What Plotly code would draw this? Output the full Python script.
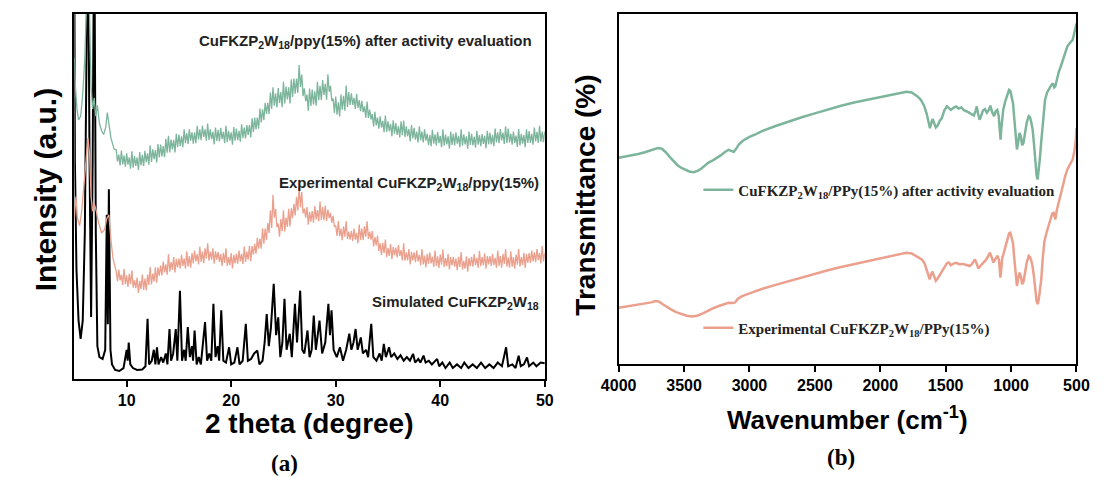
import plotly.graph_objects as go

# ---------------- Panel (a): XRD ----------------
sim_x = [5.0, 5.05, 5.2, 5.4, 5.6, 5.8, 6.0, 6.15, 6.3, 6.45, 6.6, 6.75, 6.9, 7.05, 7.2, 7.4, 7.7, 7.95,
         8.1, 8.2, 8.3, 8.45, 8.6, 8.9, 9.3, 9.7, 9.9, 10.0, 10.1, 10.2, 10.35, 10.6, 11.0, 11.5, 11.8,
         12.0, 12.15, 12.4, 12.6, 12.75, 12.9, 13.05, 13.3, 13.5, 13.75, 13.9, 14.1, 14.25, 14.45, 14.7,
         14.85, 15.1, 15.3, 15.5, 15.65, 15.85, 16.05, 16.25, 16.35, 16.5, 16.7, 16.9, 17.1, 17.3, 17.5,
         17.7, 17.9, 18.1, 18.3, 18.5, 18.7, 18.85, 19.05, 19.25, 19.5, 19.8, 20.0, 20.3, 20.6, 20.8,
         21.1, 21.4, 21.6, 21.9, 22.2, 22.5, 22.7, 23.0, 23.2, 23.4, 23.6, 23.8, 24.07, 24.3, 24.5, 24.7,
         24.9, 25.1, 25.3, 25.6, 25.8, 26.1, 26.3, 26.6, 26.8, 27.0, 27.3, 27.5, 27.7, 27.9, 28.1, 28.45,
         28.7, 29.0, 29.3, 29.45, 29.6, 29.8, 30.1, 30.4, 30.7, 31.0, 31.3, 31.5, 31.7, 31.9, 32.1, 32.4,
         32.6, 32.9, 33.1, 33.4, 33.6, 33.9, 34.2, 34.4, 34.6, 34.8, 35.1, 35.3, 35.6, 35.9, 36.2, 36.5,
         36.8, 37.1, 37.4, 37.6, 37.9, 38.1, 38.4, 38.6, 38.9, 39.2, 39.7, 39.9, 40.2, 40.5, 40.9, 41.2,
         41.6, 42.0, 42.3, 42.7, 43.1, 43.5, 43.9, 44.3, 44.7, 45.1, 45.5, 45.9, 46.3, 46.5, 46.9, 47.2,
         47.5, 47.7, 48.0, 48.3, 48.5, 48.9, 49.2, 49.6, 50.0]
sim_y = [110, 60, 30, 16, 11, 16, 40, 90, 130, 60, 17, 60, 130, 40, 9, 6, 5.5, 8,
         45, 15, 52, 8, 4, 2.5, 2.2, 3, 6, 8, 5, 10, 4, 3, 2.5, 2.6, 3.5,
         16.5, 4, 5, 8, 4, 8.7, 4, 6, 4.5, 7, 4, 13.7, 5, 7, 13.7,
         5, 24.2, 5, 8, 5, 14.2, 6, 9, 5, 13.3, 4, 6, 4, 9, 15.6,
         5, 7, 5, 20.6, 6, 9, 5, 18.8, 5, 4.5, 8.7, 4, 4.5, 8.7, 4,
         5, 15.1, 5, 5.5, 7, 7.8, 4, 5, 10, 17.8, 9, 14, 26.1, 12, 16.9, 6,
         10, 22, 8, 12.4, 6, 20.6, 10, 24.2, 8, 7, 13.3, 6, 8, 17.4, 8, 16,
         7, 10, 20.6, 12, 18.8, 8, 6, 8.7, 5, 8, 12.4, 8, 10, 13.7, 8, 11.4,
         7, 8, 6, 15.1, 6, 5, 7, 5, 9.6, 6, 8.7, 6, 7, 5.5, 6.5, 5,
         6, 5, 6.9, 4.5, 5.5, 4.5, 6.4, 4.5, 5, 4, 5.5, 3.5, 4.5, 3, 4.5, 3,
         4, 3, 4.5, 3, 4, 3, 4.5, 3, 4, 3, 4.5, 3.5, 8.7, 3.5, 4, 3,
         6.4, 3.5, 4, 5.9, 3.5, 4.5, 3.5, 4.5, 4.3]

# shared 2-theta sampling of the two noisy measured patterns (9-50 deg)
xrd_grid = [
    9.0, 9.125, 9.25, 9.375, 9.5, 9.625, 9.75, 9.875, 10.0, 10.125, 10.25, 10.375, 10.5, 10.625, 10.75, 10.875, 11.0, 11.125, 11.25, 11.375,
    11.5, 11.625, 11.75, 11.875, 12.0, 12.125, 12.25, 12.375, 12.5, 12.625, 12.75, 12.875, 13.0, 13.125, 13.25, 13.375, 13.5, 13.625, 13.75, 13.875,
    14.0, 14.125, 14.25, 14.375, 14.5, 14.625, 14.75, 14.875, 15.0, 15.125, 15.25, 15.375, 15.5, 15.625, 15.75, 15.875, 16.0, 16.125, 16.25, 16.375,
    16.5, 16.625, 16.75, 16.875, 17.0, 17.125, 17.25, 17.375, 17.5, 17.625, 17.75, 17.875, 18.0, 18.125, 18.25, 18.375, 18.5, 18.625, 18.75, 18.875,
    19.0, 19.125, 19.25, 19.375, 19.5, 19.625, 19.75, 19.875, 20.0, 20.125, 20.25, 20.375, 20.5, 20.625, 20.75, 20.875, 21.0, 21.125, 21.25, 21.375,
    21.5, 21.625, 21.75, 21.875, 22.0, 22.125, 22.25, 22.375, 22.5, 22.625, 22.75, 22.875, 23.0, 23.125, 23.25, 23.375, 23.5, 23.625, 23.75, 23.875,
    24.0, 24.125, 24.25, 24.375, 24.5, 24.625, 24.75, 24.875, 25.0, 25.125, 25.25, 25.375, 25.5, 25.625, 25.75, 25.875, 26.0, 26.125, 26.25, 26.375,
    26.5, 26.625, 26.75, 26.875, 27.0, 27.125, 27.25, 27.375, 27.5, 27.625, 27.75, 27.875, 28.0, 28.125, 28.25, 28.375, 28.5, 28.625, 28.75, 28.875,
    29.0, 29.125, 29.25, 29.375, 29.5, 29.625, 29.75, 29.875, 30.0, 30.125, 30.25, 30.375, 30.5, 30.625, 30.75, 30.875, 31.0, 31.125, 31.25, 31.375,
    31.5, 31.625, 31.75, 31.875, 32.0, 32.125, 32.25, 32.375, 32.5, 32.625, 32.75, 32.875, 33.0, 33.125, 33.25, 33.375, 33.5, 33.625, 33.75, 33.875,
    34.0, 34.125, 34.25, 34.375, 34.5, 34.625, 34.75, 34.875, 35.0, 35.125, 35.25, 35.375, 35.5, 35.625, 35.75, 35.875, 36.0, 36.125, 36.25, 36.375,
    36.5, 36.625, 36.75, 36.875, 37.0, 37.125, 37.25, 37.375, 37.5, 37.625, 37.75, 37.875, 38.0, 38.125, 38.25, 38.375, 38.5, 38.625, 38.75, 38.875,
    39.0, 39.125, 39.25, 39.375, 39.5, 39.625, 39.75, 39.875, 40.0, 40.125, 40.25, 40.375, 40.5, 40.625, 40.75, 40.875, 41.0, 41.125, 41.25, 41.375,
    41.5, 41.625, 41.75, 41.875, 42.0, 42.125, 42.25, 42.375, 42.5, 42.625, 42.75, 42.875, 43.0, 43.125, 43.25, 43.375, 43.5, 43.625, 43.75, 43.875,
    44.0, 44.125, 44.25, 44.375, 44.5, 44.625, 44.75, 44.875, 45.0, 45.125, 45.25, 45.375, 45.5, 45.625, 45.75, 45.875, 46.0, 46.125, 46.25, 46.375,
    46.5, 46.625, 46.75, 46.875, 47.0, 47.125, 47.25, 47.375, 47.5, 47.625, 47.75, 47.875, 48.0, 48.125, 48.25, 48.375, 48.5, 48.625, 48.75, 48.875,
    49.0, 49.125, 49.25, 49.375, 49.5, 49.625, 49.75, 49.875, 50.0]

# Experimental CuFKZP2W18/ppy(15%)
exp_left_x = [5.0, 5.15, 5.3, 5.5, 5.7, 5.9, 6.1, 6.3, 6.45, 6.6, 6.75, 6.9, 7.1, 7.3, 7.6, 7.9, 8.1, 8.3, 8.5, 8.7]
exp_left_y = [44, 50, 44, 42, 46, 52, 60, 66, 62, 50, 46, 48, 46, 43, 40, 41, 44, 45, 38, 33]
exp_y = [
    29.5, 26.8, 30.0, 27.0, 28.6, 25.8, 30.2, 26.0, 28.4, 25.2, 28.8, 26.0, 29.8, 25.0, 27.1, 24.9, 27.8, 23.6, 26.9, 24.6,
    28.6, 24.4, 27.5, 24.3, 28.6, 25.8, 30.7, 25.9, 28.9, 26.7, 30.6, 26.4, 30.6, 28.3, 31.1, 28.4, 32.2, 29.2, 31.4, 28.6,
    34.2, 29.4, 32.1, 29.9, 33.4, 29.2, 32.9, 30.6, 33.0, 30.3, 34.0, 31.0, 33.0, 30.2, 35.0, 30.8, 33.7, 30.5, 34.5, 31.7,
    35.2, 32.2, 34.2, 31.4, 36.3, 32.1, 34.9, 31.7, 35.8, 33.0, 37.2, 32.4, 34.9, 32.7, 35.8, 31.6, 35.0, 32.7, 34.8, 32.1,
    34.2, 31.0, 34.6, 31.8, 35.8, 31.0, 33.4, 31.2, 34.5, 30.3, 34.0, 31.7, 34.3, 31.6, 35.2, 32.2, 34.3, 31.5, 36.3, 32.1,
    34.9, 32.7, 36.5, 32.3, 36.4, 34.1, 37.0, 34.3, 38.7, 35.7, 38.5, 35.7, 41.3, 37.1, 41.2, 38.0, 42.8, 40.0, 46.2, 41.4,
    50.5, 44.2, 46.6, 41.6, 42.6, 39.0, 43.8, 40.5, 46.2, 40.4, 44.2, 41.7, 46.6, 41.8, 46.8, 44.1, 48.0, 44.8, 49.9, 46.2,
    52.5, 47.0, 51.2, 45.4, 46.7, 44.2, 47.1, 42.3, 45.8, 43.1, 46.0, 42.8, 47.4, 43.7, 46.3, 43.2, 48.6, 43.6, 47.1, 43.5,
    47.5, 43.3, 46.4, 44.1, 45.5, 42.8, 44.7, 41.7, 42.0, 39.2, 43.3, 39.1, 41.2, 38.0, 41.8, 39.0, 43.2, 38.4, 40.4, 38.2,
    40.5, 37.8, 41.2, 38.2, 40.0, 37.2, 42.3, 38.1, 41.2, 38.0, 41.8, 39.0, 43.2, 38.4, 40.4, 38.2, 40.5, 36.3, 38.9, 36.6,
    39.3, 35.1, 37.2, 34.0, 37.3, 34.5, 38.2, 33.4, 35.9, 33.7, 37.0, 32.8, 36.2, 33.9, 36.0, 33.3, 36.7, 33.7, 35.3, 32.5,
    37.2, 32.4, 34.7, 32.5, 35.6, 31.4, 34.8, 32.5, 34.7, 32.0, 35.2, 32.2, 34.0, 31.2, 35.6, 31.4, 33.8, 30.6, 34.3, 31.5,
    34.7, 31.7, 33.5, 30.7, 35.2, 31.0, 33.6, 30.4, 34.1, 31.3, 35.5, 30.7, 33.1, 30.9, 34.2, 30.0, 33.4, 31.1, 33.5, 30.8,
    33.0, 29.8, 33.5, 30.7, 34.8, 30.0, 32.4, 30.2, 33.6, 29.4, 33.2, 30.9, 33.5, 30.8, 34.2, 31.2, 33.2, 30.4, 35.1, 30.9,
    33.4, 31.2, 34.4, 30.2, 33.7, 31.4, 33.7, 31.0, 34.2, 31.2, 33.2, 30.4, 35.2, 31.0, 33.7, 30.5, 34.3, 31.5, 35.6, 30.8,
    33.3, 30.5, 35.0, 30.8, 33.4, 30.2, 34.1, 31.3, 35.6, 30.8, 33.4, 31.2, 34.6, 30.4, 34.2, 31.9, 34.5, 31.8, 35.2, 32.2,
    34.7, 32.0, 35.6, 32.6, 34.5, 31.7, 36.4, 32.2, 34.5]

# CuFKZP2W18/ppy(15%) after activity evaluation
aft_left_x = [5.0, 5.1, 5.25, 5.4, 5.6, 5.8, 6.0, 6.15, 6.3, 6.45, 6.6, 6.75, 6.9, 7.05, 7.2, 7.4, 7.6, 7.8,
              8.0, 8.15, 8.3, 8.5, 8.8]
aft_left_y = [88, 80, 74, 71, 72, 78, 88, 100, 115, 100, 80, 74, 77, 72, 75, 70, 68, 67,
              69, 73, 70, 66, 63]
aft_y = [
    62.8, 59.6, 61.5, 58.5, 62.6, 58.8, 61.2, 58.2, 61.8, 58.7, 60.7, 57.6, 62.4, 57.9, 61.1, 58.4, 60.7, 57.3, 62.2, 58.5,
    61.4, 58.4, 62.5, 59.4, 61.8, 58.7, 64.0, 59.5, 62.9, 60.2, 62.7, 59.3, 64.4, 60.7, 64.2, 61.0, 63.8, 60.8, 65.8, 62.0,
    66.6, 62.1, 65.6, 62.9, 65.5, 62.1, 67.2, 63.5, 67.0, 63.8, 66.5, 63.5, 68.4, 64.6, 67.4, 64.4, 68.4, 65.3, 67.6, 64.5,
    67.6, 64.6, 69.4, 65.6, 68.4, 65.4, 69.4, 66.3, 68.4, 65.3, 70.0, 65.5, 68.4, 65.7, 67.7, 64.3, 68.9, 65.2, 68.3, 65.1,
    68.8, 65.7, 67.7, 64.6, 69.4, 64.9, 68.0, 65.3, 67.6, 64.2, 69.0, 65.3, 68.6, 65.4, 68.0, 65.0, 69.8, 66.0, 68.9, 65.9,
    69.6, 66.9, 69.6, 66.2, 71.4, 67.7, 71.6, 68.4, 71.6, 68.6, 74.1, 70.3, 73.9, 70.9, 75.7, 72.6, 75.7, 72.6, 78.5, 74.0,
    79.9, 74.9, 78.3, 74.4, 79.7, 75.6, 78.6, 74.5, 81.4, 75.5, 80.1, 76.6, 79.9, 75.5, 82.1, 77.3, 82.3, 78.2, 82.3, 78.4,
    86.0, 80.0, 83.4, 77.5, 79.6, 76.1, 77.9, 73.5, 79.6, 74.8, 79.3, 75.2, 78.8, 74.9, 81.4, 76.4, 80.3, 76.4, 81.9, 77.8,
    80.9, 76.5, 83.5, 78.7, 80.3, 76.2, 76.8, 72.9, 77.4, 72.4, 75.8, 71.9, 77.9, 73.8, 77.6, 73.5, 80.4, 74.5, 78.6, 75.1,
    78.3, 75.1, 77.0, 74.0, 78.1, 74.3, 76.4, 73.4, 76.2, 73.1, 74.7, 71.6, 76.0, 71.5, 73.8, 71.1, 72.6, 69.2, 73.2, 69.5,
    71.6, 68.6, 72.0, 68.9, 70.7, 67.6, 72.2, 67.7, 70.6, 67.9, 69.9, 66.5, 70.9, 67.2, 70.1, 66.9, 69.2, 66.2, 70.6, 66.8,
    70.8, 66.3, 69.2, 66.5, 68.5, 65.1, 69.6, 65.9, 68.8, 65.6, 67.8, 64.8, 69.2, 65.4, 67.8, 64.8, 68.4, 65.3, 67.2, 64.1,
    66.8, 63.8, 68.3, 64.5, 67.0, 64.0, 67.7, 64.6, 66.6, 63.5, 68.4, 63.9, 67.0, 64.3, 66.5, 63.1, 67.8, 64.1, 67.2, 64.0,
    67.6, 64.5, 66.6, 63.5, 68.4, 63.9, 67.0, 64.3, 66.5, 63.1, 67.8, 64.1, 67.2, 64.0, 66.4, 63.4, 68.0, 64.2, 66.8, 63.8,
    67.1, 64.4, 66.6, 63.2, 68.0, 64.3, 67.5, 64.3, 66.8, 63.8, 68.6, 64.8, 67.6, 64.6, 68.5, 65.4, 67.5, 64.4, 69.2, 64.7,
    68.6, 64.8, 67.2, 64.2, 67.8, 64.7, 66.7, 63.6, 68.5, 64.0, 67.2, 64.5, 66.9, 63.5, 68.4, 64.7, 67.9, 64.7, 67.2, 64.2,
    68.9, 65.1, 67.7, 64.7, 69.4, 65.0, 67.8, 64.9, 67.8]

xrd_ticks = [10, 20, 30, 40, 50]

# ---------------- Panel (b): FTIR ----------------
ir_aft_x = [4000, 3950, 3900, 3850, 3800, 3750, 3700, 3670, 3640, 3610, 3580, 3550, 3520, 3490, 3460,
            3430, 3400, 3370, 3340, 3310, 3280, 3250, 3220, 3190, 3160, 3140, 3120, 3100, 3080, 3050,
            3000, 2950, 2900, 2800, 2700, 2600, 2500, 2400, 2300, 2200, 2100, 2000, 1900, 1850, 1800,
            1760, 1720, 1690, 1665, 1645, 1630, 1620, 1610, 1600, 1590, 1575, 1560, 1545, 1530, 1510,
            1490, 1475, 1460, 1440, 1420, 1400, 1380, 1360, 1340, 1320, 1300, 1285, 1270, 1262, 1252,
            1240, 1228, 1215, 1200, 1185, 1170, 1158, 1145, 1130, 1118, 1105, 1095, 1085, 1080, 1075,
            1068, 1060, 1045, 1030, 1015, 1005, 995, 985, 975, 965, 955, 945, 935, 925, 915, 905, 895,
            880, 865, 855, 845, 835, 825, 815, 805, 797, 790, 780, 770, 760, 750, 740, 725, 710, 695,
            680, 670, 662, 650, 635, 620, 600, 585, 570, 555, 540, 529, 520, 510, 500]
ir_aft_y = [58.9, 59.2, 59.6, 60.0, 60.5, 61.2, 61.7, 61.5, 60.5, 59.2, 57.9, 56.8, 56.0, 55.4, 55.0,
            54.8, 55.1, 55.8, 56.8, 57.6, 58.2, 58.8, 59.6, 60.5, 61.2, 60.9, 60.6, 61.6, 62.8, 63.8,
            64.9, 65.7, 66.6, 68.0, 69.3, 70.5, 71.6, 72.8, 73.8, 74.7, 75.5, 76.3, 76.9, 77.4, 77.8,
            77.6, 76.6, 75.5, 73.8, 71.5, 69.0, 67.4, 68.8, 70.0, 69.0, 67.6, 68.2, 69.5, 70.2, 72.5,
            73.6, 73.0, 72.6, 73.2, 73.6, 73.0, 73.3, 72.5, 72.2, 71.8, 71.3, 71.0, 72.4, 73.6, 71.5,
            69.8, 71.0, 72.4, 72.8, 71.8, 72.6, 73.8, 72.0, 70.8, 72.2, 72.6, 71.0, 66.0, 64.1, 67.0,
            71.0, 72.6, 75.0, 76.8, 78.3, 78.0, 76.5, 74.5, 70.0, 65.0, 61.3, 63.5, 66.0, 65.0, 62.5, 63.2, 66.0,
            69.0, 70.8, 70.5, 69.0, 67.0, 63.0, 58.0, 54.0, 52.7, 54.5, 58.5, 63.2, 68.0, 72.5, 75.5, 77.5, 78.6, 79.5,
            80.2, 79.0, 79.3, 81.5, 83.5, 85.0, 87.5, 89.0, 90.7, 91.5, 92.3, 92.6, 94.0, 95.5, 97.3]

ir_exp_x = [4000, 3950, 3900, 3850, 3800, 3750, 3720, 3690, 3660, 3630, 3600, 3560, 3520, 3480, 3440,
            3400, 3360, 3320, 3280, 3240, 3200, 3160, 3130, 3110, 3090, 3060, 3000, 2950, 2900, 2800,
            2700, 2600, 2500, 2400, 2300, 2200, 2100, 2000, 1900, 1850, 1800, 1760, 1730, 1704, 1680,
            1660, 1645, 1630, 1622, 1610, 1600, 1590, 1575, 1560, 1545, 1530, 1510, 1490, 1476, 1460,
            1440, 1420, 1396, 1370, 1340, 1316, 1300, 1285, 1276, 1262, 1249, 1235, 1220, 1209, 1190,
            1175, 1161, 1148, 1135, 1120, 1102, 1092, 1085, 1081, 1075, 1068, 1060, 1045, 1030, 1015,
            1005, 995, 985, 975, 965, 955, 945, 935, 925, 915, 905, 895, 880, 865, 855, 845, 836, 825,
            815, 805, 796, 788, 778, 769, 758, 745, 729, 715, 700, 685, 675, 668, 662, 650, 635, 622,
            600, 585, 569, 550, 529, 515, 505, 500]
ir_exp_y = [16.1, 16.4, 16.7, 16.9, 17.2, 17.6, 18.0, 17.8, 17.0, 16.2, 15.6, 14.8, 14.2, 13.8, 13.6,
            13.8, 14.4, 15.2, 15.9, 16.5, 17.1, 17.5, 17.4, 17.6, 18.6, 19.3, 20.2, 20.9, 21.5, 22.6,
            23.7, 24.7, 25.7, 26.8, 27.7, 28.5, 29.3, 30.2, 30.9, 31.4, 31.8, 31.6, 31.0, 30.4, 29.8,
            28.6, 27.0, 25.0, 24.2, 25.8, 26.4, 25.2, 23.8, 24.5, 25.5, 26.1, 27.6, 28.8, 29.0, 28.2,
            28.7, 28.9, 28.5, 28.6, 28.3, 28.0, 28.5, 29.4, 29.9, 28.6, 27.3, 28.0, 28.6, 29.0, 29.8,
            30.8, 31.8, 30.5, 29.0, 30.0, 30.9, 29.5, 26.5, 24.7, 27.0, 30.2, 31.2, 33.5, 35.5, 37.3,
            37.5, 36.2, 34.5, 30.0, 25.5, 22.3, 24.5, 26.1, 25.0, 22.8, 23.5, 26.0, 29.0, 30.9, 30.6, 29.5, 28.0, 25.0,
            21.0, 18.0, 17.1, 18.5, 21.5, 24.2, 30.0, 35.0, 37.5, 39.5, 41.5, 43.0, 43.2, 42.0, 41.3, 44.0, 46.5, 48.0,
            51.5, 53.8, 55.6, 57.0, 58.4, 61.0, 64.0, 67.4]

ir_ticks = [4000, 3500, 3000, 2500, 2000, 1500, 1000, 500]

assert len(xrd_grid) == len(exp_y) == len(aft_y), (len(xrd_grid), len(exp_y), len(aft_y))
assert len(sim_x) == len(sim_y) and len(ir_aft_x) == len(ir_aft_y) and len(ir_exp_x) == len(ir_exp_y)

GREEN = "#7db59c"
PINK = "#eba08d"
SANS = "Liberation Sans"
SERIF = "Liberation Serif"

fig = go.Figure()
fig.add_trace(go.Scatter(x=sim_x, y=sim_y, mode="lines", line=dict(color="black", width=2),
                         showlegend=False, xaxis="x", yaxis="y"))
fig.add_trace(go.Scatter(x=exp_left_x + xrd_grid, y=exp_left_y + exp_y, mode="lines",
                         line=dict(color=PINK, width=1.3), showlegend=False, xaxis="x", yaxis="y"))
fig.add_trace(go.Scatter(x=aft_left_x + xrd_grid, y=aft_left_y + aft_y, mode="lines",
                         line=dict(color=GREEN, width=1.3), showlegend=False, xaxis="x", yaxis="y"))

fig.add_trace(go.Scatter(x=ir_aft_x, y=ir_aft_y, mode="lines", line=dict(color=GREEN, width=2.5),
                         name="<b>CuFKZP<sub>2</sub>W<sub>18</sub>/PPy(15%) after activity evaluation</b>",
                         legend="legend", xaxis="x2", yaxis="y2"))
fig.add_trace(go.Scatter(x=ir_exp_x, y=ir_exp_y, mode="lines", line=dict(color=PINK, width=2.5),
                         name="<b>Experimental CuFKZP<sub>2</sub>W<sub>18</sub>/PPy(15%)</b>",
                         legend="legend2", xaxis="x2", yaxis="y2"))

W, H = 1105, 477
def px(x):
    return x / W
def py(y):
    return 1 - y / H

axis_common = dict(showline=True, linecolor="black", linewidth=2, mirror=True, showgrid=False,
                   zeroline=False)

fig.update_layout(
    width=W, height=H, margin=dict(l=0, r=0, t=0, b=0),
    paper_bgcolor="white", plot_bgcolor="white",
    xaxis=dict(domain=[px(58), px(542)], range=[5, 50], tickvals=xrd_ticks,
               ticks="outside", ticklen=6, tickwidth=2, tickcolor="black",
               tickfont=dict(family=SANS, size=16, color="black", weight="bold"),
               anchor="y", **axis_common),
    yaxis=dict(domain=[py(379), py(14)], range=[0, 100], showticklabels=False, ticks="",
               anchor="x", **axis_common),
    xaxis2=dict(domain=[px(618), px(1089)], range=[4000, 500], tickvals=ir_ticks,
                ticks="outside", ticklen=6, tickwidth=2, tickcolor="black",
                tickfont=dict(family=SANS, size=16, color="black", weight="bold"),
                anchor="y2", **axis_common),
    yaxis2=dict(domain=[py(364), py(14)], range=[0, 100], showticklabels=False, ticks="",
                anchor="x2", **axis_common),
    legend=dict(x=px(700), y=py(190), xanchor="left", yanchor="middle", bgcolor="rgba(0,0,0,0)",
                font=dict(family=SERIF, size=15, color="#222"), itemwidth=30, tracegroupgap=0),
    legend2=dict(x=px(700), y=py(328), xanchor="left", yanchor="middle", bgcolor="rgba(0,0,0,0)",
                 font=dict(family=SERIF, size=15, color="#222"), itemwidth=30, tracegroupgap=0),
)

ann_font_small = dict(family=SANS, size=15, color="#222", weight="bold")
annotations = [
    dict(text="CuFKZP<sub>2</sub>W<sub>18</sub>/ppy(15%) after activity evaluation",
         x=px(531), y=py(42), xanchor="right", yanchor="middle", font=ann_font_small),
    dict(text="Experimental CuFKZP<sub>2</sub>W<sub>18</sub>/ppy(15%)",
         x=px(538), y=py(183), xanchor="right", yanchor="middle", font=ann_font_small),
    dict(text="Simulated CuFKZP<sub>2</sub>W<sub>18</sub>",
         x=px(538), y=py(302), xanchor="right", yanchor="middle", font=ann_font_small),
    dict(text="2 theta (degree)", x=px(300), y=py(423), xanchor="center", yanchor="middle",
         font=dict(family=SANS, size=28, color="black", weight="bold")),
    dict(text="Wavenumber (cm<sup>-1</sup>)", x=px(853), y=py(418), xanchor="center", yanchor="middle",
         font=dict(family=SANS, size=26, color="black", weight="bold")),
    dict(text="Intensity (a.u.)", x=px(28), y=py(190), textangle=-90, xanchor="center", yanchor="middle",
         font=dict(family=SANS, size=30, color="black", weight="bold")),
    dict(text="Transmittance (%)", x=px(583), y=py(195), textangle=-90, xanchor="center", yanchor="middle",
         font=dict(family=SANS, size=28, color="black", weight="bold")),
    dict(text="(a)", x=px(274), y=py(463), xanchor="center", yanchor="middle",
         font=dict(family=SERIF, size=23, color="black", weight="bold")),
    dict(text="(b)", x=px(847), y=py(457), xanchor="center", yanchor="middle",
         font=dict(family=SERIF, size=23, color="black", weight="bold")),
]
for a in annotations:
    a.update(xref="paper", yref="paper", showarrow=False)
fig.update_layout(annotations=annotations)

fig.write_html("out.html")
